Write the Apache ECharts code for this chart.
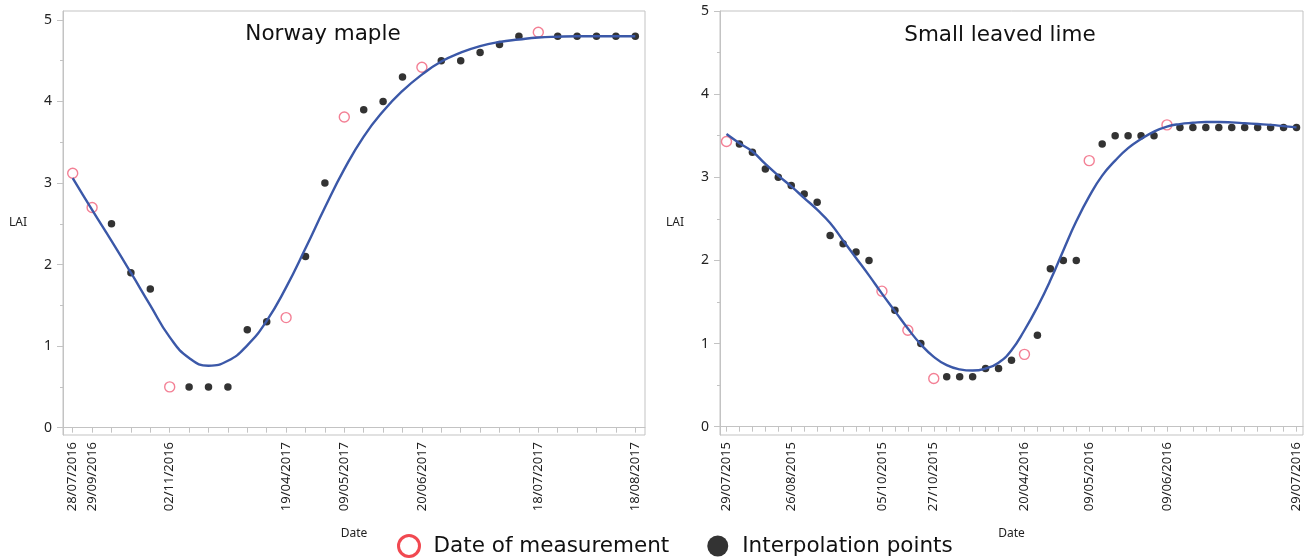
<!DOCTYPE html>
<html>
<head>
<meta charset="utf-8">
<script src="https://cdn.jsdelivr.net/npm/echarts@6/dist/echarts.min.js"></script>
<style>
html,body{margin:0;padding:0;background:#fff;}
#chart{width:1306px;height:559px;}
</style>
</head>
<body>
<div id="chart"></div>
<script>
// ---------- Norway maple ----------
const mapleTickLabels = ['28/07/2016','29/09/2016','','','','02/11/2016','','','','','','19/04/2017','','','09/05/2017','','','','20/06/2017','','','','','','18/07/2017','','','','','18/08/2017'];
const mapleMeasured = [3.12, 2.70, null, null, null, 0.50, null, null, null, null, null, 1.35, null, null, 3.81, null, null, null, 4.42, null, null, null, null, null, 4.85, null, null, null, null, null];
const mapleInterp = [null, null, 2.5, 1.9, 1.7, null, 0.5, 0.5, 0.5, 1.2, 1.3, null, 2.1, 3.0, null, 3.9, 4.0, 4.3, null, 4.5, 4.5, 4.6, 4.7, 4.8, null, 4.8, 4.8, 4.8, 4.8, 4.8];
const mapleFit = [3.06, 2.67, 2.29, 1.90, 1.50, 1.11, 0.855, 0.76, 0.82, 1.01, 1.31, 1.72, 2.20, 2.70, 3.17, 3.57, 3.88, 4.13, 4.33, 4.49, 4.60, 4.68, 4.73, 4.76, 4.785, 4.795, 4.80, 4.80, 4.80, 4.80];

// ---------- Small leaved lime ----------
const limeTickLabels = ['29/07/2015','','','','','26/08/2015','','','','','','','05/10/2015','','','','27/10/2015','','','','','','','20/04/2016','','','','','09/05/2016','','','','','','09/06/2016','','','','','','','','','','29/07/2016'];
const limeMeasured = [3.43, null, null, null, null, null, null, null, null, null, null, null, 1.63, null, 1.16, null, 0.58, null, null, null, null, null, null, 0.87, null, null, null, null, 3.20, null, null, null, null, null, 3.63, null, null, null, null, null, null, null, null, null, null];
const limeInterp = [null, 3.4, 3.3, 3.1, 3.0, 2.9, 2.8, 2.7, 2.3, 2.2, 2.1, 2.0, null, 1.4, null, 1.0, null, 0.6, 0.6, 0.6, 0.7, 0.7, 0.8, null, 1.1, 1.9, 2.0, 2.0, null, 3.4, 3.5, 3.5, 3.5, 3.5, null, 3.6, 3.6, 3.6, 3.6, 3.6, 3.6, 3.6, 3.6, 3.6, 3.6];
const limeFit = [3.52, 3.41, 3.31, 3.16, 3.02, 2.89, 2.75, 2.61, 2.45, 2.24, 2.03, 1.82, 1.60, 1.39, 1.18, 0.99, 0.84, 0.74, 0.69, 0.675, 0.70, 0.77, 0.92, 1.16, 1.44, 1.76, 2.12, 2.47, 2.77, 3.02, 3.20, 3.35, 3.46, 3.55, 3.61, 3.64, 3.655, 3.665, 3.665, 3.66, 3.65, 3.64, 3.63, 3.615, 3.60];

// ---------- Axis tick values ----------
const yMajorTicks = [0, 1, 2, 3, 4, 5];
const yMinorTicks = [0.5, 1.5, 2.5, 3.5, 4.5];

const titles = ['Norway maple', 'Small leaved lime'];
const measuredName = 'Date of measurement';
const interpName = 'Interpolation points';

const labelFont = 'Noto Sans';
const bigFont = 'DejaVu Sans';
const frameColor = '#c3c3c3';
const textColor = '#222';
const lineColor = '#3b58a8';
const ringColor = '#f0607a';

const chart = echarts.init(document.getElementById('chart'), null, {renderer: 'canvas'});

function xAxisFor(gridIndex, labels) {
  return {
    type: 'category', gridIndex: gridIndex, data: labels, boundaryGap: true,
    name: 'Date', nameLocation: 'middle', nameGap: 93,
    nameTextStyle: {fontFamily: labelFont, fontSize: 12, color: textColor},
    axisLine: {lineStyle: {color: frameColor, width: 1}},
    axisTick: {show: true, alignWithLabel: true, interval: 0, length: 5, lineStyle: {color: frameColor}},
    axisLabel: {interval: 0, rotate: 90, margin: 7, fontFamily: labelFont, fontSize: 13, color: textColor},
    splitLine: {show: false}
  };
}
function yAxesFor(gridIndex, min, max) {
  return [{
    type: 'value', gridIndex: gridIndex, min: min, max: max, position: 'left',
    name: 'LAI', nameLocation: 'middle', nameGap: 36, nameRotate: 0,
    nameTextStyle: {fontFamily: labelFont, fontSize: 12, color: textColor},
    axisLine: {show: true, lineStyle: {color: frameColor, width: 1}},
    axisTick: {show: true, length: 6, customValues: yMajorTicks, lineStyle: {color: frameColor}},
    axisLabel: {customValues: yMajorTicks, margin: 11, fontFamily: labelFont, fontSize: 14, color: textColor},
    splitLine: {show: false}
  }, {
    type: 'value', gridIndex: gridIndex, min: min, max: max, position: 'left', offset: 0,
    axisLine: {show: false},
    axisTick: {show: true, length: 3, customValues: yMinorTicks, lineStyle: {color: frameColor}},
    axisLabel: {show: false},
    splitLine: {show: false}
  }];
}
function seriesFor(xi, yi, measured, interp, fit) {
  return [{
    name: measuredName, type: 'scatter', xAxisIndex: xi, yAxisIndex: yi,
    symbol: 'circle', symbolSize: 10, data: measured,
    itemStyle: {color: 'rgba(255,255,255,0)', borderColor: ringColor, borderWidth: 1.4}
  }, {
    name: interpName, type: 'scatter', xAxisIndex: xi, yAxisIndex: yi,
    symbol: 'circle', symbolSize: 7.5, data: interp,
    itemStyle: {color: '#000'}
  }, {
    name: 'Fit', type: 'line', xAxisIndex: xi, yAxisIndex: yi,
    data: fit, smooth: 0.5, showSymbol: false, symbol: 'none',
    lineStyle: {color: lineColor, width: 2.4}, z: 3
  }];
}

const option = {
  animation: false,
  backgroundColor: '#fff',
  title: [
    {text: titles[0], left: 323, top: 23, padding: 0, textAlign: 'center',
     textStyle: {fontFamily: bigFont, fontSize: 21.5, fontWeight: 'normal', color: '#111'}},
    {text: titles[1], left: 1000, top: 24, padding: 0, textAlign: 'center',
     textStyle: {fontFamily: bigFont, fontSize: 21.5, fontWeight: 'normal', color: '#111'}}
  ],
  legend: {
    left: 397, top: 534, padding: 0, itemWidth: 21, itemHeight: 21, itemGap: 38,
    selectedMode: false,
    textStyle: {fontFamily: bigFont, fontSize: 21.5, color: '#111', padding: [0, 0, 0, 9]},
    data: [
      {name: measuredName, icon: 'circle', itemStyle: {color: '#fff', borderColor: '#ee1c25', borderWidth: 3}},
      {name: interpName, icon: 'circle', itemStyle: {color: '#000', borderWidth: 0}}
    ]
  },
  grid: [
    {left: 63, right: 1306 - 645, top: 11, bottom: 559 - 435, show: true, borderColor: frameColor, borderWidth: 1, backgroundColor: '#fff'},
    {left: 720, right: 3, top: 11, bottom: 559 - 435, show: true, borderColor: frameColor, borderWidth: 1, backgroundColor: '#fff'}
  ],
  xAxis: [xAxisFor(0, mapleTickLabels), xAxisFor(1, limeTickLabels)],
  yAxis: yAxesFor(0, -0.09, 5.11).concat(yAxesFor(1, -0.1, 5.0)),
  series: seriesFor(0, 0, mapleMeasured, mapleInterp, mapleFit)
    .concat(seriesFor(1, 2, limeMeasured, limeInterp, limeFit))
};
chart.setOption(option);
</script>
</body>
</html>
